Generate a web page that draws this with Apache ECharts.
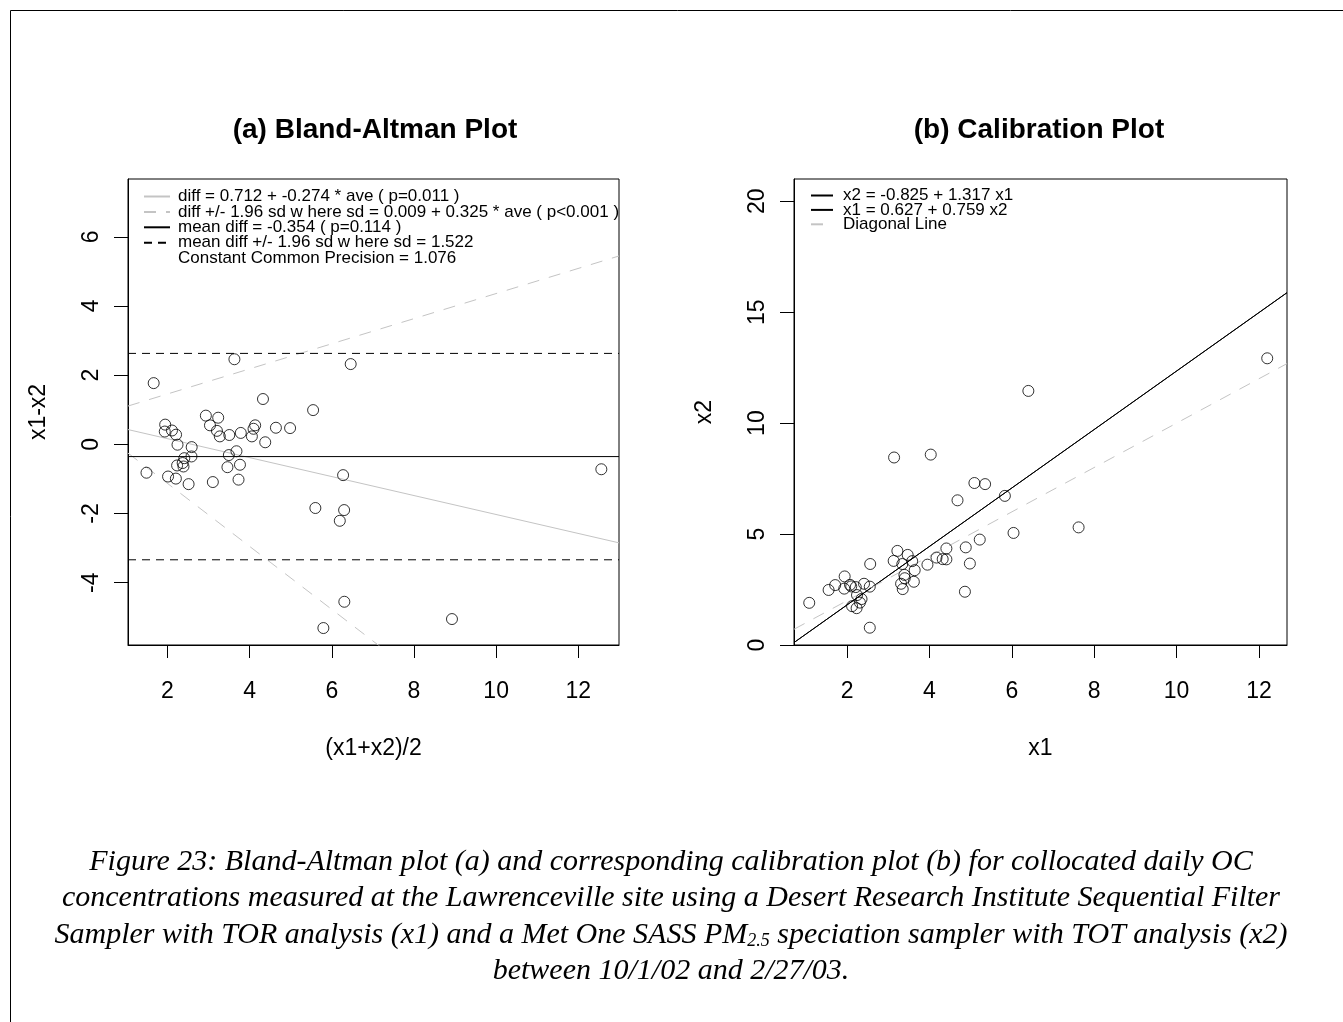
<!DOCTYPE html>
<html>
<head>
<meta charset="utf-8">
<script src="https://cdn.jsdelivr.net/npm/echarts@6/dist/echarts.min.js"></script>
<style>
html,body{margin:0;padding:0;background:#fff;}
#chart{width:1343px;height:1022px;}
</style>
</head>
<body>
<div id="chart"></div>
<script>
// ---- data ----
const x1 = [4.86, 7.62, 2.55, 4.98, 6.04, 3.35, 3.62, 2.23, 3.31, 4.41, 4.88, 5.22, 2.12, 2.31, 2.35, 3.40, 3.39, 3.64, 3.95, 4.32, 4.17, 4.41, 2.24, 2.55, 2.41, 2.21, 2.10, 1.93, 2.07, 3.34, 3.58, 3.13, 3.47, 1.08, 1.55, 1.71, 1.94, 2.56, 3.22, 5.83, 4.68, 5.35, 5.09, 4.03, 3.14, 6.40, 12.20];
const x2 = [2.40, 5.30, 0.78, 3.67, 5.05, 2.52, 2.85, 1.66, 2.76, 3.86, 4.40, 4.75, 1.75, 1.91, 2.07, 3.01, 3.16, 3.37, 3.62, 3.87, 3.94, 4.35, 2.25, 2.63, 2.76, 2.61, 2.64, 2.54, 2.71, 3.65, 3.78, 3.79, 4.06, 1.90, 2.48, 2.70, 3.09, 3.65, 4.24, 6.72, 6.52, 7.25, 7.30, 8.58, 8.45, 11.45, 12.92];

// fitted coefficients shown in the legends
const baReg = { b0: 0.712, b1: -0.274 };      // diff = b0 + b1*ave
const baSd = { b0: 0.009, b1: 0.325 };        // sd = b0 + b1*ave
const meanDiff = -0.354;
const sdDiff = 1.522;
const calReg = { b0: -0.825, b1: 1.317 };     // x2 = b0 + b1*x1
const calRegInv = { b0: 0.627, b1: 0.759 };   // x1 = b0 + b1*x2

const legendA = [
  'diff = 0.712 + -0.274 * ave ( p=0.011 )',
  'diff +/- 1.96 sd w here sd = 0.009 + 0.325 * ave ( p<0.001 )',
  'mean diff = -0.354 ( p=0.114 )',
  'mean diff +/- 1.96 sd w here sd = 1.522',
  'Constant Common Precision = 1.076'
];
const legendB = ['x2 = -0.825 + 1.317 x1', 'x1 = 0.627 + 0.759 x2', 'Diagonal Line'];

const ticksAx = [2, 4, 6, 8, 10, 12];
const ticksAy = [-4, -2, 0, 2, 4, 6];
const ticksBx = [2, 4, 6, 8, 10, 12];
const ticksBy = [0, 5, 10, 15, 20];

const rangeA = { xmin: 1.04, xmax: 12.99, ymin: -5.8, ymax: 7.67 };
const rangeB = { xmin: 0.71, xmax: 12.68, ymin: 0, ymax: 21 };

// ---- derived ----
const baPoints = x1.map((v, i) => [(v + x2[i]) / 2, v - x2[i]]);
const calPoints = x1.map((v, i) => [v, x2[i]]);
const ends = (r, f) => [[r.xmin, f(r.xmin)], [r.xmax, f(r.xmax)]];
const fReg = a => baReg.b0 + baReg.b1 * a;
const fSd = a => baSd.b0 + baSd.b1 * a;

const FONT = 'Liberation Sans';
const LIGHT = '#c4c4c4';

function axisX(grid, r, ticks, name) {
  return {
    type: 'value', gridIndex: grid, min: r.xmin, max: r.xmax,
    axisLine: { show: true, onZero: false, lineStyle: { color: '#000', width: 1 } },
    axisTick: { show: true, inside: false, length: 13, customValues: ticks, lineStyle: { color: '#000' } },
    axisLabel: { customValues: ticks, fontSize: 23, fontFamily: FONT, color: '#000', margin: 35 },
    splitLine: { show: false },
    name: name, nameLocation: 'middle', nameGap: 92,
    nameTextStyle: { fontSize: 23, fontFamily: FONT, color: '#000' }
  };
}
function axisY(grid, r, ticks, name) {
  return {
    type: 'value', gridIndex: grid, min: r.ymin, max: r.ymax,
    axisLine: { show: true, onZero: false, lineStyle: { color: '#000', width: 1 } },
    axisTick: { show: true, inside: false, length: 14, customValues: ticks, lineStyle: { color: '#000' } },
    axisLabel: { customValues: ticks, rotate: 90, fontSize: 23, fontFamily: FONT, color: '#000', margin: 25 },
    splitLine: { show: false },
    name: name, nameLocation: 'middle', nameGap: 78,
    nameTextStyle: { fontSize: 23, fontFamily: FONT, color: '#000' }
  };
}
function lineSeries(name, xi, data, color, type, z) {
  return {
    name: name, type: 'line', xAxisIndex: xi, yAxisIndex: xi, data: data,
    symbol: 'none', silent: true, clip: true, z: z || 2,
    lineStyle: { color: color, width: 1, type: type }, itemStyle: { color: color }
  };
}

const caption = [
  'Figure 23: Bland-Altman plot (a) and corresponding calibration plot (b) for collocated daily OC',
  'concentrations measured at the Lawrenceville site using a Desert Research Institute Sequential Filter',
  'Sampler with TOR analysis (x1) and a Met One SASS PM{sub|2.5} speciation sampler with TOT analysis (x2)',
  'between 10/1/02 and 2/27/03.'
];
const captionY = [862, 898, 935, 971];

const legendTextA = { fontSize: 17, fontFamily: FONT, color: '#000', lineHeight: 14, padding: [0, 0, 0, 3] };
const legendTextB = { fontSize: 17, fontFamily: FONT, color: '#000', lineHeight: 14, padding: [0, 0, 0, 5] };

const chart = echarts.init(document.getElementById('chart'), null, { renderer: 'canvas' });
const option = {
  animation: false,
  backgroundColor: '#fff',
  title: [
    { text: '(a) Bland-Altman Plot', left: 370, top: 111, textAlign: 'center',
      textStyle: { fontSize: 28, fontWeight: 'bold', fontFamily: FONT, color: '#000' } },
    { text: '(b) Calibration Plot', left: 1034, top: 111, textAlign: 'center',
      textStyle: { fontSize: 28, fontWeight: 'bold', fontFamily: FONT, color: '#000' } }
  ],
  grid: [
    { left: 128, top: 179, width: 491, height: 466, show: true, borderColor: '#000', borderWidth: 1, containLabel: false },
    { left: 794, top: 179, width: 493, height: 466, show: true, borderColor: '#000', borderWidth: 1, containLabel: false }
  ],
  xAxis: [axisX(0, rangeA, ticksAx, '(x1+x2)/2'), axisX(1, rangeB, ticksBx, 'x1')],
  yAxis: [axisY(0, rangeA, ticksAy, 'x1-x2'), axisY(1, rangeB, ticksBy, 'x2')],
  legend: [
    { data: legendA, orient: 'vertical', left: 138, top: 183, itemWidth: 26, itemHeight: 14, itemGap: -1.6,
      selectedMode: false, itemStyle: { color: 'rgba(0,0,0,0)', borderWidth: 0, opacity: 0 },
      textStyle: legendTextA },
    { data: legendB, orient: 'vertical', left: 805, top: 182, itemWidth: 22, itemHeight: 14, itemGap: -2.6,
      selectedMode: false, itemStyle: { color: 'rgba(0,0,0,0)', borderWidth: 0, opacity: 0 },
      textStyle: legendTextB }
  ],
  series: [
    lineSeries(legendA[0], 0, ends(rangeA, fReg), LIGHT, 'solid'),
    lineSeries(legendA[1], 0, ends(rangeA, a => fReg(a) + 1.96 * fSd(a)), LIGHT, [12, 10]),
    lineSeries(legendA[1] + ' ', 0, ends(rangeA, a => fReg(a) - 1.96 * fSd(a)), LIGHT, [12, 10]),
    lineSeries(legendA[2], 0, ends(rangeA, () => meanDiff), '#000', 'solid'),
    lineSeries(legendA[3], 0, ends(rangeA, () => meanDiff + 1.96 * sdDiff), '#000', [8, 6]),
    lineSeries(legendA[3] + ' ', 0, ends(rangeA, () => meanDiff - 1.96 * sdDiff), '#000', [8, 6]),
    { name: legendA[4], type: 'line', xAxisIndex: 0, yAxisIndex: 0, data: [], symbol: 'none',
      lineStyle: { opacity: 0 }, itemStyle: { opacity: 0 } },
    { name: 'ba', type: 'scatter', xAxisIndex: 0, yAxisIndex: 0, data: baPoints, symbol: 'circle', symbolSize: 11,
      itemStyle: { color: 'rgba(0,0,0,0)', borderColor: '#000', borderWidth: 1 }, z: 5 },

    lineSeries(legendB[0], 1, ends(rangeB, v => calReg.b0 + calReg.b1 * v), '#000', 'solid'),
    lineSeries(legendB[1], 1, ends(rangeB, v => (v - calRegInv.b0) / calRegInv.b1), '#000', 'solid'),
    lineSeries(legendB[2], 1, ends(rangeB, v => v), LIGHT, [12, 10]),
    { name: 'cal', type: 'scatter', xAxisIndex: 1, yAxisIndex: 1, data: calPoints, symbol: 'circle', symbolSize: 11,
      itemStyle: { color: 'rgba(0,0,0,0)', borderColor: '#000', borderWidth: 1 }, z: 5 }
  ],
  graphic: [
    { type: 'rect', silent: true, shape: { x: 10.5, y: 10.5, width: 1340, height: 1020 },
      style: { fill: 'none', stroke: '#000', lineWidth: 1 } }
  ].concat(caption.map((t, i) => ({
    type: 'text', silent: true, x: 671, y: captionY[i],
    style: {
      text: t, textAlign: 'center', textVerticalAlign: 'middle',
      fontSize: 30, fontStyle: 'italic', fontFamily: 'Liberation Serif', fill: '#000',
      rich: {
        sub: { fontSize: 18, fontStyle: 'italic', fontFamily: 'Liberation Serif', lineHeight: 18, verticalAlign: 'bottom', padding: [13, 0, 0, 0] }
      }
    }
  })))
};
chart.setOption(option);
</script>
</body>
</html>
